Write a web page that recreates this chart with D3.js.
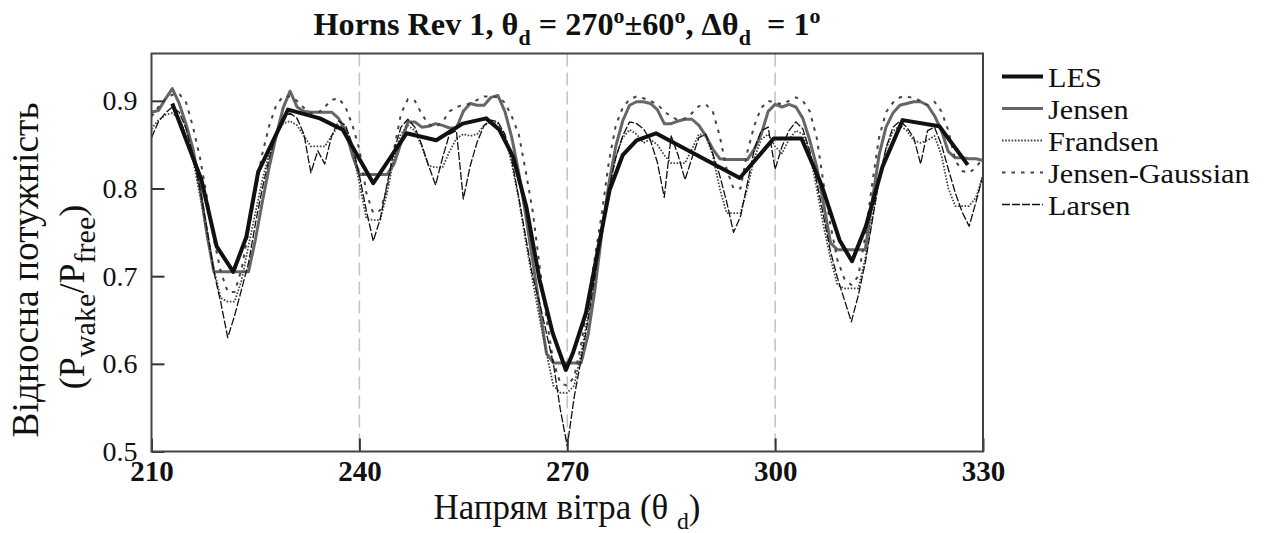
<!DOCTYPE html>
<html><head><meta charset="utf-8">
<script src="https://cdn.jsdelivr.net/npm/d3@7"></script>
<style>
body{margin:0;background:#fff}
svg{display:block}
svg text{font-family:"Liberation Serif","Tinos","Noto Serif","DejaVu Serif",serif;fill:#111}
</style>
</head><body>
<svg id="c" width="1272" height="533"></svg>
<script>
// ---------------- data ----------------
const directions = d3.range(210, 331, 1); // wind direction grid, degrees

const jensen = [0.887,0.889,0.902,0.914,0.897,0.873,0.845,0.800,0.748,0.705,
0.705,0.705,0.705,0.705,0.705,0.742,0.785,0.825,0.860,0.892,
0.911,0.893,0.888,0.887,0.887,0.887,0.887,0.880,0.866,0.838,
0.816,0.816,0.816,0.816,0.816,0.828,0.852,0.876,0.876,0.870,
0.871,0.874,0.872,0.869,0.869,0.888,0.897,0.895,0.895,0.904,
0.906,0.888,0.858,0.818,0.770,0.718,0.665,0.612,0.601,0.601,
0.601,0.601,0.601,0.633,0.685,0.750,0.805,0.848,0.877,0.895,
0.899,0.899,0.897,0.890,0.874,0.874,0.877,0.879,0.879,0.872,
0.860,0.845,0.834,0.833,0.833,0.833,0.833,0.845,0.862,0.888,
0.896,0.893,0.896,0.893,0.880,0.855,0.825,0.782,0.738,0.730,
0.730,0.730,0.730,0.730,0.785,0.838,0.870,0.886,0.895,0.897,
0.899,0.899,0.895,0.883,0.866,0.842,0.835,0.835,0.834,0.834,
0.832];

const frandsen = [0.868,0.878,0.884,0.886,0.880,0.862,0.832,0.792,0.748,0.708,
0.675,0.671,0.671,0.695,0.735,0.772,0.810,0.840,0.862,0.874,
0.877,0.872,0.860,0.848,0.848,0.848,0.860,0.872,0.868,0.845,
0.806,0.766,0.764,0.764,0.795,0.835,0.862,0.872,0.866,0.848,
0.826,0.824,0.824,0.842,0.857,0.862,0.860,0.862,0.872,0.876,
0.874,0.860,0.828,0.788,0.740,0.695,0.652,0.612,0.575,0.567,
0.567,0.575,0.612,0.655,0.705,0.755,0.800,0.836,0.858,0.867,
0.862,0.852,0.856,0.850,0.838,0.829,0.829,0.829,0.845,0.862,
0.860,0.838,0.800,0.772,0.772,0.772,0.800,0.835,0.856,0.862,
0.848,0.840,0.856,0.866,0.862,0.840,0.800,0.757,0.720,0.690,
0.686,0.686,0.686,0.720,0.766,0.810,0.845,0.865,0.872,0.866,
0.855,0.852,0.855,0.860,0.838,0.800,0.780,0.780,0.780,0.790,
0.815];

const jensenGaussian = [0.882,0.893,0.902,0.907,0.908,0.898,0.870,0.835,0.790,0.742,
0.705,0.682,0.682,0.708,0.752,0.798,0.840,0.872,0.895,0.905,
0.905,0.900,0.892,0.886,0.886,0.893,0.901,0.903,0.893,0.872,
0.845,0.795,0.772,0.775,0.800,0.845,0.885,0.902,0.900,0.885,
0.873,0.870,0.876,0.888,0.893,0.895,0.897,0.901,0.905,0.905,
0.904,0.898,0.882,0.862,0.820,0.775,0.712,0.652,0.602,0.578,
0.575,0.585,0.622,0.672,0.722,0.772,0.830,0.872,0.892,0.902,
0.905,0.903,0.900,0.896,0.888,0.882,0.878,0.880,0.886,0.894,
0.896,0.888,0.860,0.822,0.800,0.800,0.842,0.872,0.892,0.900,
0.898,0.896,0.900,0.904,0.900,0.888,0.858,0.805,0.758,0.718,
0.697,0.690,0.700,0.745,0.805,0.858,0.887,0.898,0.904,0.905,
0.903,0.900,0.895,0.899,0.888,0.866,0.832,0.820,0.818,0.824,
0.835];

const larsen = [0.858,0.876,0.886,0.893,0.887,0.868,0.838,0.800,0.755,0.705,
0.670,0.630,0.655,0.685,0.715,0.760,0.800,0.835,0.862,0.880,
0.886,0.880,0.862,0.818,0.843,0.828,0.860,0.877,0.872,0.850,
0.815,0.775,0.740,0.765,0.805,0.843,0.870,0.879,0.870,0.850,
0.826,0.804,0.835,0.862,0.866,0.788,0.826,0.853,0.872,0.878,
0.876,0.862,0.832,0.790,0.745,0.700,0.670,0.635,0.600,0.548,
0.506,0.562,0.605,0.650,0.700,0.752,0.798,0.835,0.860,0.876,
0.874,0.868,0.855,0.830,0.790,0.860,0.838,0.810,0.835,0.858,
0.862,0.840,0.815,0.785,0.750,0.768,0.806,0.845,0.866,0.870,
0.822,0.848,0.866,0.876,0.868,0.843,0.808,0.768,0.728,0.698,
0.673,0.648,0.678,0.715,0.762,0.810,0.846,0.870,0.877,0.870,
0.858,0.828,0.866,0.870,0.850,0.822,0.795,0.773,0.757,0.785,
0.815];

const lesAngles = [213,217.2,219.4,221.8,223.7,225.4,229.7,234.3,237.6,242,246.8,251.1,254.9,258.3,260.2,262.2,264.1,266,267.9,269.8,270.8,272.7,274.7,276.1,278,280,282.8,294.9,299.8,303.8,306.6,309.3,311.1,313.1,315.5,318.4,323.7,327.8];
const lesValues = [0.897,0.810,0.734,0.705,0.745,0.819,0.890,0.880,0.867,0.806,0.863,0.855,0.874,0.880,0.867,0.836,0.779,0.696,0.635,0.593,0.612,0.658,0.741,0.798,0.838,0.855,0.863,0.812,0.857,0.857,0.806,0.741,0.717,0.757,0.825,0.878,0.871,0.827];

const xTicks = [210,240,270,300,330];
const yTicks = [0.5,0.6,0.7,0.8,0.9];
const gridAngles = [240,270,300];
const legendNames = ["LES","Jensen","Frandsen","Jensen-Gaussian","Larsen"];

// ---------------- drawing ----------------
const FONT = '"Liberation Serif","Tinos","Noto Serif","DejaVu Serif",serif';
const svg = d3.select('#c');
const L = 151.5, R = 983, T = 53.5, B = 451.5;
const x = d3.scaleLinear().domain([210,330]).range([L,R]);
const y = d3.scaleLinear().domain([0.5,0.954]).range([B,T]);

const styles = {
  "LES":            {color:"#111", width:4,   dash:null},
  "Jensen":         {color:"#666", width:3,   dash:null},
  "Frandsen":       {color:"#444", width:1.8, dash:"1.6,1.6"},
  "Jensen-Gaussian":{color:"#444", width:2,   dash:"3.5,6"},
  "Larsen":         {color:"#111", width:1.3, dash:"8,2"}
};

// grid
svg.append('g').selectAll('line').data(gridAngles).join('line')
  .attr('x1',d=>x(d)).attr('x2',d=>x(d)).attr('y1',T).attr('y2',B)
  .attr('stroke','#c4c4c4').attr('stroke-width',1.6).attr('stroke-dasharray','13,6');

// series
const line = d3.line().x(d=>x(d[0])).y(d=>y(d[1]));
function draw(name, xs, vs){
  const s = styles[name];
  svg.append('path').datum(xs.map((a,i)=>[a,vs[i]]))
    .attr('d',line).attr('fill','none')
    .attr('stroke',s.color).attr('stroke-width',s.width)
    .attr('stroke-linejoin','round')
    .attr('stroke-dasharray',s.dash);
}
draw("Jensen", directions, jensen);
draw("Frandsen", directions, frandsen);
draw("Jensen-Gaussian", directions, jensenGaussian);
draw("Larsen", directions, larsen);
draw("LES", lesAngles, lesValues);

// axes
const ya = svg.append('g').attr('transform',`translate(${L},0)`)
  .call(d3.axisLeft(y).tickValues(yTicks).tickSize(-13).tickPadding(14).tickFormat(d3.format('.1f')));
ya.attr('font-family',FONT);
ya.select('.domain').remove();
ya.selectAll('line').attr('stroke','#333').attr('stroke-width',2);
ya.selectAll('text').attr('font-size',28).attr('fill','#111');

const xa = svg.append('g').attr('transform',`translate(0,${B})`)
  .call(d3.axisBottom(x).tickValues(xTicks).tickSize(-13).tickPadding(9));
xa.attr('font-family',FONT);
xa.select('.domain').remove();
xa.selectAll('line').attr('stroke','#333').attr('stroke-width',2);
xa.selectAll('text').attr('font-size',29).attr('font-weight','bold').attr('fill','#111');

// frame
svg.append('rect').attr('x',L).attr('y',T).attr('width',R-L).attr('height',B-T)
  .attr('fill','none').attr('stroke','#444').attr('stroke-width',2);

// rich text helper
function rich(parent, segs, fs, ratio){
  ratio = ratio || 0.68;
  const t = parent.append('text').attr('font-size',fs).attr('font-family',FONT);
  let shift = 0;
  segs.forEach(s=>{
    const target = s[1]==='sub' ? 0.3 : s[1]==='sup' ? -0.38 : 0;
    const ts = t.append('tspan').text(s[0]);
    if (s[1]) ts.attr('font-size', (fs*ratio).toFixed(1));
    const d = target - shift;
    if (d !== 0) ts.attr('dy', (d*fs).toFixed(2));
    shift = target;
  });
  return t;
}
function fit(t, w){
  const cur = t.node().getComputedTextLength();
  const k = w/cur;
  t.attr('font-size', +t.attr('font-size')*k);
  t.selectAll('tspan').each(function(){
    const el = d3.select(this);
    if (el.attr('font-size')) el.attr('font-size', +el.attr('font-size')*k);
    if (el.attr('dy')) el.attr('dy', +el.attr('dy')*k);
  });
}

// title
const title = rich(svg, [["Horns Rev 1, θ"],["d","sub"],[" = 270"],["o","sup"],["±60"],["o","sup"],[", Δθ"],["d","sub"],["  = 1"],["o","sup"]], 30)
  .attr('font-weight','bold').attr('text-anchor','middle').attr('x',567).attr('y',35)
  .style('white-space','pre');
fit(title, 507);

// x title
const xt = rich(svg, [["Напрям вітра (θ "],["d","sub"],[")"]], 30)
  .attr('text-anchor','middle').attr('x',567).attr('y',519).style('white-space','pre');
fit(xt, 267);

// y title
const yt1 = svg.append('text').attr('font-size',32).attr('font-family',FONT).attr('text-anchor','middle')
  .attr('transform','translate(38,270) rotate(-90)').text('Відносна потужність');
fit(yt1, 335);
const yt2 = rich(svg, [["(P"],["wake","sub"],["/P"],["free","sub"],[")"]], 36, 0.84)
  .attr('text-anchor','middle').attr('transform','translate(84,297) rotate(-90)');

// legend
const lg = svg.append('g').attr('font-family',FONT);
legendNames.forEach((n,i)=>{
  const ly = 76.5 + i*32;
  const s = styles[n];
  lg.append('line').attr('x1',1002).attr('x2',1043).attr('y1',ly).attr('y2',ly)
    .attr('stroke',s.color).attr('stroke-width',s.width).attr('stroke-dasharray',s.dash);
  const t = lg.append('text').attr('x',1048).attr('y',ly+10).attr('font-size',28).text(n);
  const w = t.node().getComputedTextLength();
  t.attr('textLength', (w*1.08).toFixed(1)).attr('lengthAdjust','spacingAndGlyphs');
});
</script>
</body></html>
